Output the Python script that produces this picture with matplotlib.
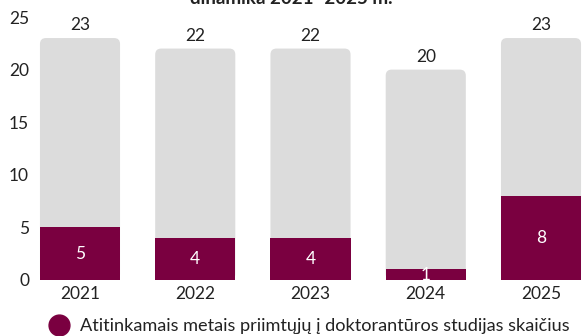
import matplotlib
matplotlib.use("Agg")
import matplotlib.pyplot as plt
from matplotlib.patches import FancyBboxPatch
from matplotlib.lines import Line2D

years = ["2021", "2022", "2023", "2024", "2025"]
totals = [23, 22, 22, 20, 23]
admitted = [5, 4, 4, 1, 8]
title = "dinamika 2021–2025 m."
legend_label = "Atitinkamais metais priimtųjų į doktorantūros studijas skaičius"

grey = "#dcdcdc"
maroon = "#7a0040"
txt = "#222222"

plt.rcParams['font.family'] = ['Lato', 'DejaVu Sans']

W, H = 582, 336
fig = plt.figure(figsize=(W / 100, H / 100), dpi=100)
L = 36
xmin = (L - 80) / 115.25
xmax = (W - 80) / 115.25
ax = fig.add_axes([L / W, 56 / H, 1 - L / W, 263 / H])
x = list(range(len(years)))
ax.set_xlim(xmin, xmax)
ax.set_ylim(0, 25)

bw = 0.695
bars = ax.bar(x, totals, width=bw, color=grey, zorder=1)
px_x = (xmax - xmin) / (W - L)
px_y = 25 / 263
for b in bars:
    b.set_visible(False)
    p = FancyBboxPatch((b.get_x(), 0), b.get_width(), b.get_height(),
                       boxstyle="round,pad=0,rounding_size=%f" % (6 * px_x),
                       mutation_aspect=px_y / px_x,
                       facecolor=grey, edgecolor="none", zorder=1)
    ax.add_patch(p)
ax.bar(x, admitted, width=bw, color=maroon, zorder=2)

for xi, t, a in zip(x, totals, admitted):
    ax.text(xi, t + 0.45, str(t), ha="center", va="bottom", fontsize=12.5, color=txt)
    ax.text(xi, a / 2, str(a), ha="center", va="center", fontsize=12.5, color="white", zorder=3)

ax.set_xticks(x)
ax.set_xticklabels(years)
ax.set_yticks([0, 5, 10, 15, 20, 25])
ax.tick_params(length=0, labelsize=12.5, colors=txt, pad=4)
ax.tick_params(axis="y", pad=5)
for s in ax.spines.values():
    s.set_visible(False)

fig.text(0.5, 1.0 + 1 / H, title, ha="center", va="center", fontsize=13.5, fontweight="bold", color=txt)

handle = Line2D([], [], marker="o", linestyle="none", markersize=15, color=maroon)
fig.legend([handle], [legend_label], loc="center", bbox_to_anchor=(305 / W, 1 - 326 / H),
           frameon=False, fontsize=13.1, handletextpad=0.15, labelcolor=txt,
           borderpad=0, borderaxespad=0)

fig.savefig("out.png", dpi=100)
